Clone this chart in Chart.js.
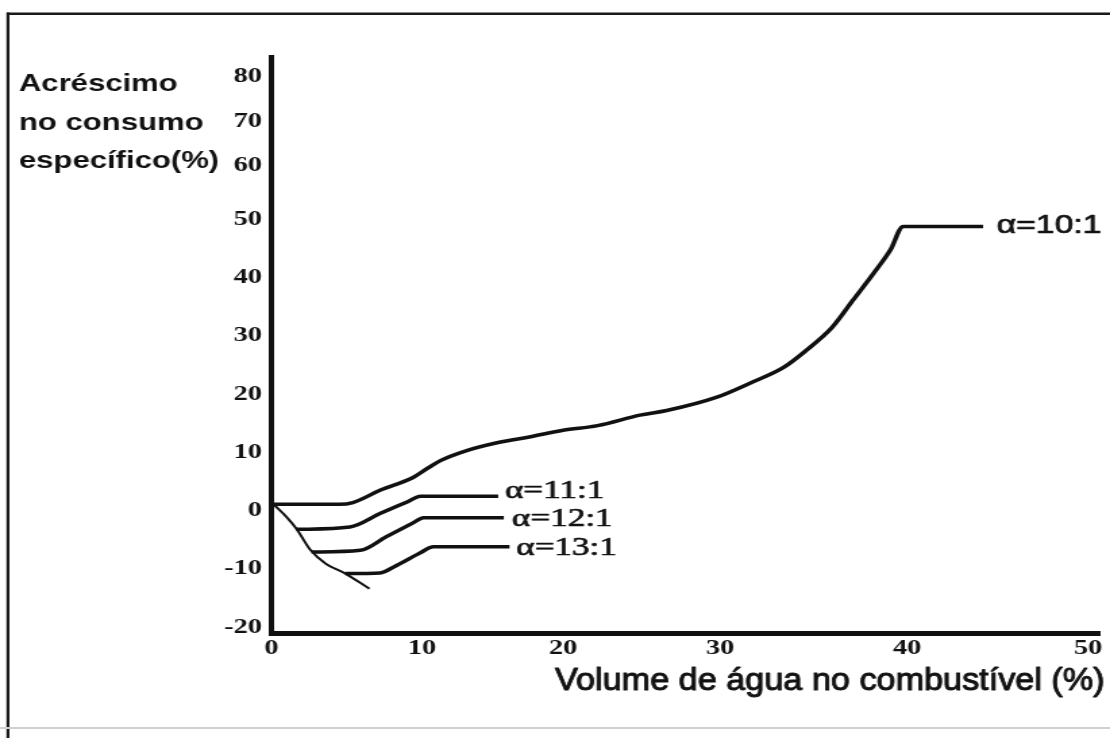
<!DOCTYPE html>
<html>
<head>
<meta charset="utf-8">
<title>Acréscimo no consumo específico</title>
<script src="https://cdn.jsdelivr.net/npm/chart.js@4.4.1/dist/chart.umd.min.js"></script>
<style>
  html, body { margin: 0; padding: 0; background: #fff; overflow: hidden; }
  /* the scanned original is stretched sideways, so the whole drawing is too */
  #wrap { width: 822px; height: 738px; transform: scaleX(1.3504); transform-origin: 0 0; }
</style>
</head>
<body>
<div id="wrap"><canvas id="grafico" width="822" height="738"></canvas></div>
<script>
// eixos
const xTicks = [0, 10, 20, 30, 40, 50];
const yTicks = [-20, -10, 0, 10, 20, 30, 40, 50, 60, 70, 80];
const tituloY = ['Acréscimo', 'no consumo', 'específico(%)'];
const tituloX = 'Volume de água no combustível (%)';

// series (volume de água %, acréscimo %)
const rotulos = ['α=10:1', 'α=11:1', 'α=12:1', 'α=13:1'];

const agua10 = [0, 4.5, 5.4, 7.2, 9.4, 10.4, 11.3, 13.0, 15.4, 17.7, 20.0, 22.2, 24.9, 26.6, 29.8, 31.6, 33.4, 34.6, 36.0, 37.1, 38.2, 39.1, 39.8, 44.2];
const consumo10 = [1.1, 1.1, 1.4, 3.5, 5.7, 7.3, 8.6, 10.2, 11.7, 12.7, 13.8, 14.6, 16.4, 17.2, 19.5, 21.9, 24.6, 27.5, 31.5, 36.1, 40.7, 44.7, 48.8, 48.8];

const agua11 = [1.65, 5.2, 7.2, 9.0, 9.9, 15.4];
const consumo11 = [-3.2, -2.8, -0.5, 1.5, 2.5, 2.5];

const agua12 = [2.65, 5.9, 7.6, 9.4, 10.1, 15.8];
const consumo12 = [-7.1, -6.8, -4.5, -2.1, -1.2, -1.2];

const agua13 = [4.9, 7.2, 8.3, 9.9, 10.8, 16.2];
const consumo13 = [-10.8, -10.7, -9.4, -7.2, -6.2, -6.2];

const aguaLimite = [0.2, 1.0, 1.65, 2.6, 3.6, 4.9, 6.5];
const consumoLimite = [0.9, -1.1, -3.1, -6.8, -9.1, -10.8, -13.4];

// the printed axes are not evenly spaced: value -> fraction of the axis length
const knots = {
    x: [[0, 0], [10, 0.1817], [20, 0.3518], [30, 0.5413], [40, 0.767], [50, 0.9855], [50.7, 1]],
    y: [[-21, 0], [50, 0.7179], [60, 0.8108], [70, 0.8872], [80, 0.9653], [84.4, 1]]
};

function interp(pares, v, a, b) {
    for (let i = 1; i < pares.length; i++) {
        if (v <= pares[i][a] || i === pares.length - 1) {
            const p0 = pares[i - 1], p1 = pares[i];
            return p0[b] + (v - p0[a]) / (p1[a] - p0[a]) * (p1[b] - p0[b]);
        }
    }
}

class WarpScale extends Chart.LinearScale {
    getPixelForValue(value) {
        return this.getPixelForDecimal(interp(knots[this.axis], value, 0, 1));
    }
    getValueForPixel(pixel) {
        return interp(knots[this.axis], this.getDecimalForPixel(pixel), 1, 0);
    }
}
WarpScale.id = 'warp';
WarpScale.defaults = Chart.LinearScale.defaults;
Chart.register(WarpScale);

function pontos(xs, ys) {
    return xs.map((x, i) => ({ x: x, y: ys[i] }));
}

// draw text a little heavier, like the scanned print
function textoCheio(ctx, texto, x, y, peso) {
    ctx.lineWidth = peso;
    ctx.strokeStyle = ctx.fillStyle;
    ctx.lineJoin = 'round';
    ctx.strokeText(texto, x, y);
    ctx.fillText(texto, x, y);
}

const moldura = {
    id: 'moldura',
    beforeDraw(chart) {
        const ctx = chart.ctx;
        ctx.save();
        ctx.fillStyle = '#fff';
        ctx.fillRect(0, 0, chart.width, chart.height);
        ctx.fillStyle = '#1a1a1a';
        ctx.fillRect(5, 12.5, chart.width - 5, 2.5);
        ctx.fillRect(4.8, 12.5, 2.2, chart.height - 12.5);
        ctx.fillStyle = '#d0d0d0';
        ctx.fillRect(0, 727, chart.width, 2);
        ctx.restore();
    }
};

const etiquetas = {
    id: 'etiquetas',
    afterDatasetsDraw(chart) {
        const ctx = chart.ctx;
        chart.data.datasets.forEach((ds, i) => {
            if (!ds.etiqueta) return;
            const pts = chart.getDatasetMeta(i).data;
            const p = pts[pts.length - 1];
            ctx.save();
            ctx.font = ds.fonte;
            ctx.fillStyle = '#111';
            ctx.textBaseline = 'middle';
            textoCheio(ctx, ds.label, p.x + ds.afastamento, p.y + ds.desvio, 0.7);
            ctx.restore();
        });
    }
};

const titulos = {
    id: 'titulos',
    afterDraw(chart) {
        const ctx = chart.ctx;
        ctx.save();
        ctx.fillStyle = '#111';
        ctx.textBaseline = 'alphabetic';
        ctx.textAlign = 'left';
        ctx.font = 'bold 23px "Liberation Sans", Arial, sans-serif';
        tituloY.forEach((linha, i) => ctx.fillText(linha, 14, 91 + i * 38.5));

        // x title is set in a narrow face in the original
        ctx.font = '31px "Liberation Sans", Arial, sans-serif';
        const w = ctx.measureText(tituloX).width;
        ctx.translate(818, 690);
        ctx.scale(407 / w, 1);
        ctx.textAlign = 'right';
        textoCheio(ctx, tituloX, 0, 0, 1);
        ctx.restore();
    }
};

const fonteTicks = { family: '"Liberation Serif", "Times New Roman", serif', size: 21, weight: 'bold' };
const linha = { borderColor: '#111', pointRadius: 0, borderWidth: 3.5, fill: false, cubicInterpolationMode: 'monotone' };

new Chart(document.getElementById('grafico'), {
    type: 'line',
    data: {
        datasets: [
            Object.assign({}, linha, {
                label: rotulos[0], data: pontos(agua10, consumo10),
                etiqueta: true, fonte: '25px "Liberation Sans", Arial, sans-serif', afastamento: 10, desvio: 0
            }),
            Object.assign({}, linha, {
                label: rotulos[1], data: pontos(agua11, consumo11),
                etiqueta: true, fonte: '26px "Liberation Serif", "Times New Roman", serif', afastamento: 5, desvio: -5
            }),
            Object.assign({}, linha, {
                label: rotulos[2], data: pontos(agua12, consumo12),
                etiqueta: true, fonte: '26px "Liberation Serif", "Times New Roman", serif', afastamento: 6, desvio: 1
            }),
            Object.assign({}, linha, {
                label: rotulos[3], data: pontos(agua13, consumo13),
                etiqueta: true, fonte: '26px "Liberation Serif", "Times New Roman", serif', afastamento: 5, desvio: 1
            }),
            Object.assign({}, linha, {
                label: 'limite', data: pontos(aguaLimite, consumoLimite), borderWidth: 2
            })
        ]
    },
    options: {
        responsive: false,
        animation: false,
        layout: { padding: { top: 57, right: 7.4, bottom: 0, left: 0 } },
        plugins: {
            legend: { display: false },
            tooltip: { enabled: false }
        },
        scales: {
            x: {
                type: 'warp',
                min: 0,
                max: 50.7,
                afterBuildTicks: s => { s.ticks = xTicks.map(v => ({ value: v })); },
                afterFit: s => { s.height = 105; },
                grid: { display: false, drawTicks: false, tickLength: 0 },
                border: { display: true, color: '#111', width: 5 },
                ticks: { font: fonteTicks, color: '#111', padding: 3, autoSkip: false, maxRotation: 0, callback: v => String(v) }
            },
            y: {
                type: 'warp',
                min: -21,
                max: 84.4,
                afterBuildTicks: s => { s.ticks = yTicks.map(v => ({ value: v })); },
                afterFit: s => { s.width = 201.1; },
                grid: { display: false, drawTicks: false, tickLength: 0 },
                border: { display: true, color: '#111', width: 4 },
                ticks: { font: fonteTicks, color: '#111', padding: 7, autoSkip: false, callback: v => String(v) }
            }
        }
    },
    plugins: [moldura, etiquetas, titulos]
});
</script>
</body>
</html>
